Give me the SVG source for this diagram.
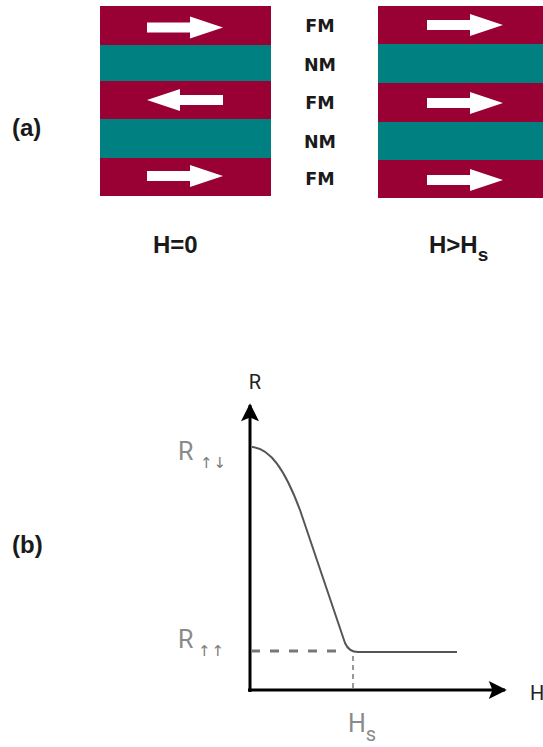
<svg xmlns="http://www.w3.org/2000/svg" xmlns:xlink="http://www.w3.org/1999/xlink" width="543" height="747" viewBox="0 0 543 747">
<style>
.fm{fill:#990033}
.nm{fill:#008080}
.arr{fill:#ffffff}
.lbl{font-family:"DejaVu Sans",Verdana,sans-serif;font-weight:bold;font-size:17.5px;fill:#1a1a1a;text-anchor:middle}
.big{font-family:"Liberation Sans",Arial,sans-serif;font-weight:bold;font-size:24px;fill:#1a1a1a}
.gr{font-family:Roboto,"Liberation Sans",sans-serif;font-size:25px;fill:#8a8a8a}
.dk{font-family:Roboto,"Liberation Sans",sans-serif;font-size:20px;fill:#222}
.sm{font-family:"DejaVu Sans",sans-serif;font-size:15px;fill:#7a7a7a}
.axis{stroke:#000;stroke-width:3;fill:none}
</style>
<defs>
<path id="ar" d="M0,-5 H43 V-11 L76,0 L43,11 V5 H0 Z"/>
<marker id="ah" viewBox="0 0 10 10" refX="9" refY="5" markerWidth="7.5" markerHeight="6" markerUnits="strokeWidth" orient="auto">
<path d="M0,0 L10,5 L0,10 L2,5 Z" fill="#000"/>
</marker>
</defs>
<rect width="543" height="747" fill="#fff"/>

<g id="stack-left">
<rect class="fm" x="100" y="6" width="171" height="39"/>
<rect class="nm" x="100" y="45" width="171" height="36"/>
<rect class="fm" x="100" y="81" width="171" height="38"/>
<rect class="nm" x="100" y="119" width="171" height="39"/>
<rect class="fm" x="100" y="158" width="171" height="38"/>
<use href="#ar" class="arr" transform="translate(147,27.5)"/>
<use href="#ar" class="arr" transform="translate(223,100) scale(-1,1)"/>
<use href="#ar" class="arr" transform="translate(147,176)"/>
</g>

<g id="stack-right">
<rect class="fm" x="378" y="6" width="165" height="38"/>
<rect class="nm" x="378" y="44" width="165" height="39"/>
<rect class="fm" x="378" y="83" width="165" height="39"/>
<rect class="nm" x="378" y="122" width="165" height="38"/>
<rect class="fm" x="378" y="160" width="165" height="38"/>
<use href="#ar" class="arr" transform="translate(427,25)"/>
<use href="#ar" class="arr" transform="translate(427,103)"/>
<use href="#ar" class="arr" transform="translate(427,180)"/>
</g>

<g id="layer-labels">
<text class="lbl" x="320" y="31.5">FM</text>
<text class="lbl" x="320" y="70.5">NM</text>
<text class="lbl" x="320" y="109">FM</text>
<text class="lbl" x="320" y="147.5">NM</text>
<text class="lbl" x="320" y="184.5">FM</text>
</g>

<g id="captions">
<text class="big" x="153" y="253">H=0</text>
<text class="big" x="429" y="253">H&gt;H<tspan font-size="19" dy="8">s</tspan></text>
<text class="big" x="12" y="136">(a)</text>
<text class="big" x="12" y="553">(b)</text>
</g>

<g id="graph">
<g id="connectors">
<line class="axis" x1="250" y1="692" x2="250" y2="405" marker-end="url(#ah)"/>
<line class="axis" x1="248" y1="690" x2="505" y2="690" marker-end="url(#ah)"/>
<line x1="251" y1="651" x2="345" y2="651" stroke="#777" stroke-width="3" stroke-dasharray="9 10"/>
<line x1="353" y1="656" x2="353" y2="689" stroke="#777" stroke-width="1.5" stroke-dasharray="5 4"/>
<path d="M252,447 C270,448 285,470 300,510 L345,643 Q349,652 358,652 L457,652" fill="none" stroke="#555" stroke-width="2"/>
</g>
<text class="dk" x="255" y="389" text-anchor="middle">R</text>
<text class="gr" x="178" y="460">R</text>
<text class="sm" x="200" y="468" letter-spacing="1">&#x2191;&#x2193;</text>
<text class="gr" x="178" y="648">R</text>
<text class="sm" x="198" y="656" letter-spacing="1">&#x2191;&#x2191;</text>
<text class="gr" x="348" y="732">H<tspan font-size="20" dy="9">s</tspan></text>
<text class="dk" x="530" y="700" font-size="25">H</text>
</g>
</svg>
